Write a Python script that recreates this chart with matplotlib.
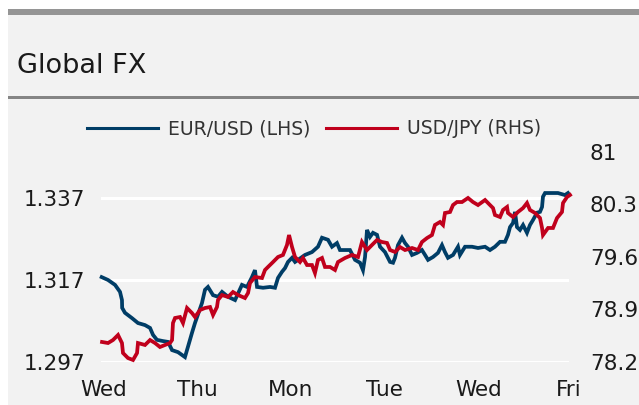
import matplotlib
matplotlib.use("Agg")
import matplotlib.pyplot as plt
from matplotlib.patches import Rectangle
import numpy as np

# ---- data (time in trading-day units, Wed = 0) ----
eur_t = [0.007, 0.075, 0.150, 0.203, 0.224, 0.226, 0.256, 0.331, 0.395, 0.470,
         0.524, 0.556, 0.598, 0.662, 0.716, 0.759, 0.823, 0.897, 0.929, 0.972,
         1.004, 1.079, 1.111, 1.143, 1.197, 1.250, 1.293, 1.357, 1.432, 1.506,
         1.560, 1.613, 1.645, 1.667, 1.731, 1.806, 1.859, 1.891, 1.934, 1.966,
         1.998, 2.041, 2.073, 2.105, 2.179, 2.254, 2.318, 2.361, 2.425, 2.468,
         2.521, 2.553, 2.585, 2.660, 2.714, 2.767, 2.799, 2.821, 2.842, 2.874,
         2.906, 2.949, 2.981, 3.034, 3.088, 3.120, 3.141, 3.173, 3.216, 3.248,
         3.280, 3.323, 3.376, 3.429, 3.462, 3.494, 3.547, 3.600, 3.643, 3.675,
         3.707, 3.761, 3.814, 3.835, 3.889, 3.964, 4.028, 4.103, 4.156, 4.209,
         4.263, 4.316, 4.348, 4.370, 4.402, 4.423, 4.444, 4.476, 4.509, 4.551,
         4.583, 4.615, 4.658, 4.690, 4.712, 4.722, 4.744, 4.818, 4.882, 4.957,
         4.989]
eur_usd = [1.3177, 1.3170, 1.3158, 1.3141, 1.3121, 1.3102, 1.3090, 1.3077, 1.3065, 1.3060,
           1.3053, 1.3036, 1.3024, 1.3021, 1.3019, 1.2999, 1.2994, 1.2982, 1.3007, 1.3041,
           1.3065, 1.3114, 1.3146, 1.3153, 1.3133, 1.3129, 1.3141, 1.3129, 1.3121, 1.3158,
           1.3153, 1.3177, 1.3194, 1.3153, 1.3151, 1.3153, 1.3151, 1.3175, 1.3190, 1.3199,
           1.3214, 1.3224, 1.3214, 1.3219, 1.3231, 1.3238, 1.3251, 1.3273, 1.3268, 1.3251,
           1.3260, 1.3243, 1.3243, 1.3243, 1.3219, 1.3212, 1.3194, 1.3226, 1.3292, 1.3275,
           1.3285, 1.3280, 1.3251, 1.3238, 1.3214, 1.3212, 1.3224, 1.3255, 1.3273, 1.3260,
           1.3251, 1.3231, 1.3236, 1.3243, 1.3231, 1.3219, 1.3226, 1.3236, 1.3255, 1.3238,
           1.3224, 1.3231, 1.3251, 1.3231, 1.3251, 1.3251, 1.3248, 1.3251, 1.3243, 1.3251,
           1.3263, 1.3263, 1.3280, 1.3299, 1.3309, 1.3336, 1.3299, 1.3292, 1.3304, 1.3285,
           1.3304, 1.3316, 1.3334, 1.3336, 1.3348, 1.3373, 1.3382, 1.3382, 1.3382, 1.3377,
           1.3382]

jpy_t = [0.011, 0.075, 0.128, 0.182, 0.224, 0.235, 0.288, 0.342, 0.385, 0.395,
         0.470, 0.524, 0.577, 0.630, 0.684, 0.737, 0.759, 0.769, 0.791, 0.844,
         0.876, 0.919, 0.972, 1.004, 1.058, 1.111, 1.165, 1.197, 1.239, 1.250,
         1.293, 1.357, 1.410, 1.464, 1.538, 1.571, 1.592, 1.645, 1.720, 1.752,
         1.784, 1.838, 1.891, 1.944, 1.987, 2.009, 2.041, 2.073, 2.126, 2.158,
         2.201, 2.254, 2.286, 2.318, 2.361, 2.393, 2.447, 2.500, 2.532, 2.607,
         2.682, 2.746, 2.788, 2.842, 2.895, 2.949, 3.002, 3.056, 3.088, 3.141,
         3.194, 3.248, 3.323, 3.387, 3.429, 3.483, 3.536, 3.568, 3.622, 3.654,
         3.675, 3.729, 3.761, 3.803, 3.857, 3.921, 3.974, 4.028, 4.103, 4.156,
         4.188, 4.209, 4.263, 4.295, 4.338, 4.348, 4.402, 4.455, 4.509, 4.551,
         4.583, 4.637, 4.690, 4.712, 4.722, 4.776, 4.829, 4.872, 4.925, 4.936,
         4.979, 5.011]
usd_jpy = [78.467, 78.453, 78.493, 78.560, 78.453, 78.320, 78.253, 78.227, 78.320, 78.453,
           78.427, 78.493, 78.453, 78.400, 78.427, 78.453, 78.493, 78.720, 78.787, 78.800,
           78.720, 78.920, 78.853, 78.800, 78.893, 78.920, 78.933, 78.827, 78.933, 79.027,
           79.093, 79.067, 79.133, 79.093, 79.053, 79.120, 79.253, 79.333, 79.320, 79.427,
           79.467, 79.533, 79.600, 79.627, 79.760, 79.893, 79.733, 79.600, 79.533, 79.587,
           79.493, 79.493, 79.387, 79.560, 79.587, 79.467, 79.467, 79.427, 79.533, 79.587,
           79.627, 79.600, 79.800, 79.693, 79.760, 79.827, 79.800, 79.787, 79.693, 79.667,
           79.733, 79.693, 79.720, 79.693, 79.800, 79.853, 79.893, 80.027, 80.067, 80.027,
           80.187, 80.200, 80.293, 80.333, 80.333, 80.387, 80.333, 80.293, 80.360, 80.293,
           80.253, 80.160, 80.133, 80.227, 80.267, 80.187, 80.133, 80.200, 80.253, 80.320,
           80.227, 80.187, 80.120, 79.987, 79.893, 79.987, 79.987, 80.120, 80.200, 80.320,
           80.400, 80.427]

day_labels = ["Wed", "Thu", "Mon", "Tue", "Wed", "Fri"]
day_pos = [0.03, 1.03, 2.03, 3.03, 4.03, 5.0]
left_ticks = [1.297, 1.317, 1.337]
right_ticks = [78.2, 78.9, 79.6, 80.3, 81.0]
right_labels = ["78.2", "78.9", "79.6", "80.3", "81"]

BLUE = "#003d66"
RED = "#c0001c"
TXT = "#1a1a1a"

W, H = 639, 405
fig = plt.figure(figsize=(W / 100, H / 100), dpi=100)
fig.patch.set_facecolor("white")

# background panel and bars
fig.patches.append(Rectangle((8 / W, 0), 1, 1 - 15 / H, transform=fig.transFigure,
                             facecolor="#f2f2f2", edgecolor="none", zorder=-10))
fig.patches.append(Rectangle((8 / W, 1 - 15 / H), 1, 6 / H, transform=fig.transFigure,
                             facecolor="#959595", edgecolor="none", zorder=-9))
fig.patches.append(Rectangle((8 / W, 1 - 99 / H), 1, 3 / H, transform=fig.transFigure,
                             facecolor="#858585", edgecolor="none", zorder=-9))

fig.text(17 / W, 1 - 73 / H, "Global FX", fontsize=19.5, color=TXT,
         family="DejaVu Sans", va="baseline", ha="left")

ax = fig.add_axes([101 / W, 1 - 362 / H, (569 - 101) / W, (362 - 152) / H])
ax.set_facecolor("none")
for s in ax.spines.values():
    s.set_visible(False)
ax.set_xlim(0, 5.0)
ax.set_ylim(1.297, 1.3482)
ax.set_yticks(left_ticks)
ax.set_yticklabels([f"{v:.3f}" for v in left_ticks])
ax.set_xticks(day_pos)
ax.set_xticklabels(day_labels)
ax.tick_params(axis="both", length=0, labelsize=15.5, labelcolor=TXT)
ax.tick_params(axis="y", pad=11.5)
ax.tick_params(axis="x", pad=13)
ax.grid(axis="y", color="white", linewidth=2.2)
ax.set_axisbelow(True)

l1, = ax.plot(eur_t, eur_usd, color=BLUE, linewidth=2.7, clip_on=False,
              solid_joinstyle="miter", label="EUR/USD (LHS)")

ax2 = ax.twinx()
ax2.set_facecolor("none")
for s in ax2.spines.values():
    s.set_visible(False)
ax2.set_ylim(78.2, 81.0)
ax2.set_yticks(right_ticks)
ax2.set_yticklabels(right_labels)
ax2.tick_params(axis="y", length=0, labelsize=15.5, labelcolor=TXT, pad=15)
l2, = ax2.plot(jpy_t, usd_jpy, color=RED, linewidth=2.7, clip_on=False,
               solid_joinstyle="miter", label="USD/JPY (RHS)")
ax2.set_xlim(0, 5.0)

leg = fig.legend(handles=[l1, l2], loc="center", bbox_to_anchor=(314 / W, 1 - 129 / H),
                 ncol=2, frameon=False, fontsize=13.5, handlelength=3.8,
                 handletextpad=0.53, columnspacing=0.8, borderpad=0, borderaxespad=0)
for t in leg.get_texts():
    t.set_color("#333333")
for h in leg.legend_handles:
    h.set_linewidth(2.2)

fig.savefig("out.png", dpi=100)
